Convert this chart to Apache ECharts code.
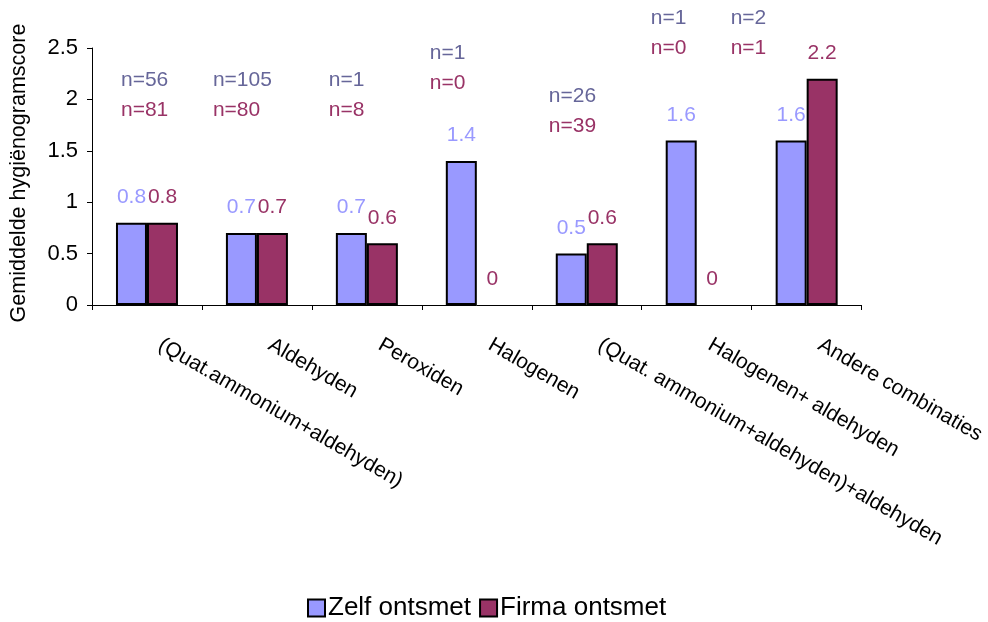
<!DOCTYPE html>
<html>
<head>
<meta charset="utf-8">
<script src="https://cdn.jsdelivr.net/npm/echarts@6/dist/echarts.min.js"></script>
<style>
  html, body { margin: 0; padding: 0; background: #fff; }
  #chart { width: 988px; height: 622px; }
</style>
</head>
<body>
<div id="chart"></div>
<script>
// Disinfectant types on the x axis
const categories = [
  '(Quat.ammonium+aldehyden)',
  'Aldehyden',
  'Peroxiden',
  'Halogenen',
  '(Quat. ammonium+aldehyden)+aldehyden',
  'Halogenen+ aldehyden',
  'Andere combinaties'
];
// Mean hygienogram score per group
const zelfScores = [0.8, 0.7, 0.7, 1.4, 0.5, 1.6, 1.6];
const firmaScores = [0.8, 0.7, 0.6, 0, 0.6, 0, 2.2];
// Number of farms per group
const zelfCounts = [56, 105, 1, 1, 26, 1, 2];
const firmaCounts = [81, 80, 8, 0, 39, 0, 1];
const seriesNames = ['Zelf ontsmet', 'Firma ontsmet'];

// Placement of the n= annotations: height of the upper line (score units)
// and horizontal shift from the category centre (px)
const countLabelLevel = [2.19, 2.19, 2.19, 2.45, 2.03, 2.79, 2.79];
const countLabelShift = [-26, -44, -38, -47, -38, -46, -76];

const FONT = '"Liberation Sans", Arial, sans-serif';
const BLUE = '#9999FF';
const PLUM = '#993366';
const SLATE = '#666699';

const chart = echarts.init(document.getElementById('chart'), null, { renderer: 'canvas' });

const barLabel = (color) => ({
  show: true,
  position: 'top',
  distance: 15,
  color: color,
  fontSize: 21,
  fontFamily: FONT
});

// zero-height bars get no outline so they leave only their label
const barData = (values) => values.map(v => v === 0 ? { value: v, itemStyle: { borderWidth: 0 } } : v);

chart.setOption({
  backgroundColor: '#fff',
  animation: false,
  grid: { left: 92, top: 48, width: 773, height: 257, containLabel: false },
  legend: {
    data: seriesNames,
    left: 307,
    top: 595,
    padding: 0,
    icon: 'rect',
    itemWidth: 17,
    itemHeight: 17,
    itemGap: 8,
    textStyle: { fontSize: 26, color: '#000', fontFamily: FONT, padding: [0, 0, 0, -2] }
  },
  xAxis: {
    type: 'category',
    data: categories,
    axisLine: { lineStyle: { color: '#000', width: 1 } },
    axisTick: { show: true, length: 5, lineStyle: { color: '#000' } },
    axisLabel: {
      interval: 0,
      rotate: -30,
      margin: 31,
      padding: [0, 0, 0, 15],
      fontSize: 21,
      color: '#000',
      fontFamily: FONT
    },
    splitLine: { show: false }
  },
  yAxis: {
    type: 'value',
    min: 0,
    max: 2.5,
    interval: 0.5,
    axisLine: { show: true, lineStyle: { color: '#000', width: 1 } },
    axisTick: { show: true, length: 5, lineStyle: { color: '#000' } },
    axisLabel: { fontSize: 22, color: '#000', margin: 14, fontFamily: FONT },
    splitLine: { show: false }
  },
  series: [
    {
      name: seriesNames[0],
      type: 'bar',
      data: barData(zelfScores),
      barWidth: 31,
      barGap: '0%',
      itemStyle: { color: BLUE, borderColor: '#000', borderWidth: 2 },
      label: barLabel(BLUE)
    },
    {
      name: seriesNames[1],
      type: 'bar',
      data: barData(firmaScores),
      barWidth: 31,
      barGap: '0%',
      itemStyle: { color: PLUM, borderColor: '#000', borderWidth: 2 },
      label: barLabel(PLUM)
    }
  ]
});

// n= annotations and the rotated y-axis title
const graphics = [];
categories.forEach((c, i) => {
  const p = chart.convertToPixel({ xAxisIndex: 0, yAxisIndex: 0 }, [i, countLabelLevel[i]]);
  const x = p[0] + countLabelShift[i];
  [['n=' + zelfCounts[i], SLATE, 0], ['n=' + firmaCounts[i], PLUM, 30]].forEach(([t, col, dy]) => {
    graphics.push({
      type: 'text',
      x: x,
      y: p[1] + dy,
      style: {
        text: t,
        fill: col,
        font: '21px ' + FONT,
        align: 'left', textAlign: 'left',
        verticalAlign: 'middle', textVerticalAlign: 'middle'
      }
    });
  });
});
graphics.push({
  type: 'text',
  x: 19,
  y: 173,
  rotation: Math.PI / 2,
  style: {
    text: 'Gemiddelde hygiënogramscore',
    fill: '#000',
    font: '21.5px ' + FONT,
    align: 'center', textAlign: 'center',
    verticalAlign: 'middle', textVerticalAlign: 'middle'
  }
});
chart.setOption({ graphic: graphics });
</script>
</body>
</html>
